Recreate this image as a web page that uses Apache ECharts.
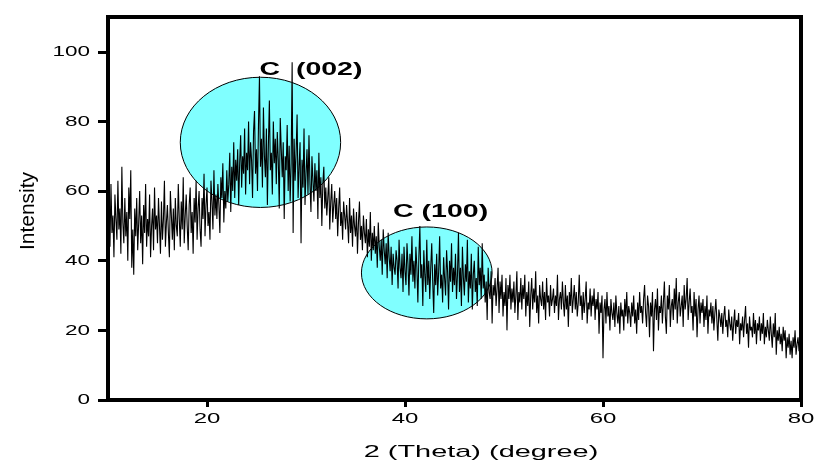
<!DOCTYPE html>
<html><head><meta charset="utf-8">
<script src="https://cdn.jsdelivr.net/npm/echarts@6/dist/echarts.min.js"></script>
<style>html,body{margin:0;padding:0;background:#fff}#c{width:816px;height:462px}</style>
</head><body><div id="c"></div>
<script>
// scan grid (2θ, degrees)
const scanStart = 10.0;
const scanStep = 0.1;
// intensity values, one per scan step from 10.0 to 80.0 (one row per degree)
const intensity = [
  50, 57, 44, 62, 48, 53, 41, 59, 52, 46, // 10
  63, 49, 55, 42, 67, 51, 45, 58, 47, 54, // 11
  40, 61, 52, 66, 38, 49, 36, 55, 47, 58, // 12
  43, 51, 60, 45, 53, 39, 56, 48, 62, 44, // 13
  52, 47, 59, 41, 50, 55, 43, 61, 49, 53, // 14
  45, 58, 50, 42, 57, 46, 52, 63, 44, 51, // 15
  56, 48, 41, 60, 53, 46, 55, 43, 58, 50, // 16
  47, 62, 52, 44, 57, 49, 64, 45, 53, 59, // 17
  50, 43, 56, 61, 48, 54, 42, 58, 51, 63, // 18
  46, 55, 60, 49, 44, 58, 52, 65, 47, 56, // 19
  61, 50, 54, 46, 63, 57, 49, 66, 53, 59, // 20
  52, 62, 56, 48, 64, 58, 68, 51, 60, 55, // 21
  66, 57, 62, 71, 54, 67, 60, 74, 58, 69, // 22
  63, 72, 56, 68, 76, 61, 70, 65, 78, 59, // 23
  71, 66, 80, 62, 74, 69, 58, 77, 83, 65, // 24
  72, 60, 79, 93, 67, 75, 61, 84, 70, 64, // 25
  78, 56, 73, 86, 66, 71, 59, 80, 68, 75, // 26
  62, 77, 69, 55, 81, 72, 64, 74, 52, 70, // 27
  66, 79, 60, 73, 57, 68, 97, 48, 75, 63, // 28
  71, 82, 58, 67, 74, 45, 69, 61, 78, 56, // 29
  65, 72, 59, 76, 62, 54, 70, 63, 57, 68, // 30
  60, 66, 52, 71, 58, 64, 50, 62, 67, 55, // 31
  61, 53, 58, 64, 49, 57, 62, 51, 56, 60, // 32
  52, 58, 47, 55, 61, 50, 54, 46, 57, 53, // 33
  49, 56, 51, 45, 58, 48, 53, 44, 55, 50, // 34
  47, 54, 42, 51, 57, 46, 50, 43, 53, 48, // 35
  45, 52, 41, 49, 44, 54, 40, 48, 43, 50, // 36
  42, 47, 38, 51, 44, 40, 46, 36, 49, 43, // 37
  39, 45, 35, 48, 41, 37, 44, 33, 42, 38, // 38
  36, 43, 40, 32, 46, 38, 35, 42, 31, 44, // 39
  37, 33, 45, 39, 30, 42, 36, 47, 34, 40, // 40
  32, 44, 38, 28, 41, 50, 35, 39, 27, 43, // 41
  36, 31, 46, 33, 40, 29, 38, 45, 34, 25, // 42
  39, 33, 42, 30, 37, 47, 32, 36, 28, 41, // 43
  35, 30, 43, 37, 26, 40, 34, 45, 31, 38, // 44
  33, 42, 29, 36, 48, 31, 38, 27, 44, 35, // 45
  30, 39, 34, 46, 28, 37, 32, 42, 26, 36, // 46
  40, 31, 35, 27, 44, 33, 38, 29, 45, 32, // 47
  36, 28, 34, 23, 38, 31, 29, 37, 22, 33, // 48
  30, 35, 27, 32, 38, 25, 34, 29, 36, 24, // 49
  31, 27, 35, 20, 33, 29, 36, 26, 32, 28, // 50
  34, 25, 30, 37, 23, 31, 28, 35, 26, 33, // 51
  29, 36, 24, 31, 27, 34, 21, 30, 35, 26, // 52
  32, 28, 37, 25, 30, 22, 33, 29, 27, 34, // 53
  26, 31, 23, 35, 28, 30, 24, 33, 27, 29, // 54
  32, 25, 30, 27, 36, 23, 29, 31, 26, 34, // 55
  28, 24, 33, 26, 30, 21, 31, 27, 35, 25, // 56
  29, 33, 26, 31, 24, 28, 36, 27, 30, 23, // 57
  31, 25, 29, 34, 22, 28, 26, 32, 24, 30, // 58
  27, 32, 23, 29, 26, 31, 19, 28, 25, 30, // 59
  12, 26, 29, 22, 31, 24, 27, 20, 29, 25, // 60
  23, 28, 21, 30, 25, 22, 27, 19, 28, 24, // 61
  26, 20, 29, 24, 31, 22, 27, 25, 21, 28, // 62
  24, 30, 22, 26, 19, 28, 23, 31, 25, 27, // 63
  22, 29, 33, 25, 21, 30, 27, 18, 28, 24, // 64
  31, 14, 26, 29, 23, 32, 20, 27, 25, 30, // 65
  22, 28, 34, 24, 19, 30, 26, 33, 21, 27, // 66
  29, 23, 32, 26, 35, 22, 28, 31, 24, 27, // 67
  30, 21, 33, 26, 29, 35, 23, 28, 32, 25, // 68
  27, 20, 31, 24, 29, 18, 26, 30, 22, 28, // 69
  25, 29, 21, 27, 23, 30, 19, 26, 24, 28, // 70
  22, 27, 20, 25, 29, 23, 17, 26, 24, 21, // 71
  25, 19, 24, 27, 21, 23, 18, 26, 22, 20, // 72
  24, 17, 22, 26, 19, 23, 21, 25, 16, 22, // 73
  20, 24, 18, 23, 27, 19, 22, 15, 24, 20, // 74
  21, 18, 25, 19, 23, 16, 22, 20, 24, 17, // 75
  22, 19, 25, 16, 21, 18, 23, 20, 17, 24, // 76
  19, 15, 22, 18, 25, 13, 20, 17, 21, 16, // 77
  19, 14, 21, 17, 20, 12, 18, 15, 19, 13, // 78
  17, 12, 18, 15, 20, 13, 16, 18, 14, 19, // 79
  22                                      // 80
];
const xTicks = [20, 40, 60, 80];
const yTicks = [0, 20, 40, 60, 80, 100];
const xName = '2 (Theta) (degree)';
const yName = 'Intensity';
// peak annotations (data coordinates)
const peakNames = ['C  (002)', 'C (100)'];
const peakLabelAt = [[25.3, 94.8], [38.8, 54]];
const peakCenter = [[25.4, 74], [42.2, 36.5]];
const peakRadius = [[8.1, 18.7], [6.6, 13.2]];

const FONT = "'Liberation Sans', Arial, sans-serif";
const points = intensity.map((v, i) => [+(scanStart + i * scanStep).toFixed(2), v]);

const chart = echarts.init(document.getElementById('c'));
chart.setOption({
  animation: false,
  backgroundColor: '#fff',
  grid: { left: 108, right: 15, top: 17, bottom: 62, show: true, borderColor: '#000', borderWidth: 4, backgroundColor: 'transparent' },
  xAxis: {
    type: 'value', min: 10, max: 80, interval: 10,
    axisLine: { show: true, lineStyle: { color: '#000', width: 4 } },
    axisTick: { show: true, inside: false, length: 7, lineStyle: { color: '#000', width: 3 }, customValues: xTicks },
    axisLabel: { show: false },
    splitLine: { show: false }
  },
  yAxis: {
    type: 'value', min: 0, max: 110, interval: 10,
    axisLine: { show: true, lineStyle: { color: '#000', width: 4 } },
    axisTick: { show: true, inside: false, length: 10, lineStyle: { color: '#000', width: 3 }, customValues: yTicks },
    axisLabel: { show: false },
    splitLine: { show: false }
  },
  series: [{
    type: 'line', data: points, showSymbol: false, z: 5,
    lineStyle: { color: '#000', width: 1.1 }
  }]
});

const g = [];
peakCenter.forEach((c, i) => {
  const p = chart.convertToPixel({ gridIndex: 0 }, c);
  const e = chart.convertToPixel({ gridIndex: 0 }, [c[0] + peakRadius[i][0], c[1] + peakRadius[i][1]]);
  g.push({ type: 'ellipse', z: 1, shape: { cx: p[0], cy: p[1], rx: e[0] - p[0], ry: p[1] - e[1] },
    style: { fill: '#80FFFF', stroke: '#000', lineWidth: 1 } });
});
peakNames.forEach((t, i) => {
  const p = chart.convertToPixel({ gridIndex: 0 }, peakLabelAt[i]);
  g.push({ type: 'text', z: 10, x: p[0], y: p[1], scaleX: 1.5,
    style: { text: t, fill: '#000', font: 'bold 19px ' + FONT, textAlign: 'left', textVerticalAlign: 'middle' } });
});
yTicks.forEach(v => {
  const p = chart.convertToPixel({ gridIndex: 0 }, [10, v]);
  g.push({ type: 'text', z: 10, x: 90, y: p[1], scaleX: 1.5,
    style: { text: String(v), fill: '#000', font: '15px ' + FONT, textAlign: 'right', textVerticalAlign: 'middle' } });
});
xTicks.forEach(v => {
  const p = chart.convertToPixel({ gridIndex: 0 }, [v, 0]);
  g.push({ type: 'text', z: 10, x: p[0], y: 419, scaleX: 1.6,
    style: { text: String(v), fill: '#000', font: '15px ' + FONT, textAlign: 'center', textVerticalAlign: 'middle' } });
});
g.push({ type: 'text', z: 10, x: 481, y: 452, scaleX: 1.7,
  style: { text: xName, fill: '#000', font: '17px ' + FONT, textAlign: 'center', textVerticalAlign: 'middle' } });
g.push({ type: 'text', z: 10, x: 28, y: 211, rotation: Math.PI / 2, scaleX: 1.05,
  style: { text: yName, fill: '#000', font: '20px ' + FONT, textAlign: 'center', textVerticalAlign: 'middle' } });
chart.setOption({ graphic: g });
</script>
</body></html>
